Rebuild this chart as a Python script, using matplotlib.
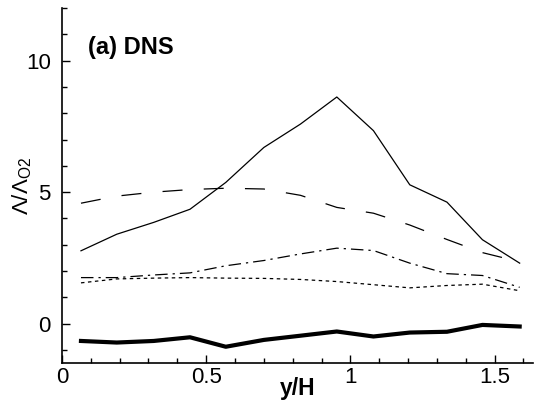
import numpy as np
import matplotlib
matplotlib.use("Agg")
import matplotlib.pyplot as plt

plt.rcParams["font.family"] = ["Liberation Sans", "DejaVu Sans"]
plt.rcParams["mathtext.fontset"] = "custom"
plt.rcParams["mathtext.rm"] = "Liberation Sans"

y_h = [0.066, 0.19, 0.318, 0.444, 0.568, 0.70, 0.827, 0.953, 1.08, 1.206, 1.335, 1.458, 1.587]
solid = [2.77, 3.40, 3.85, 4.35, 5.37, 6.70, 7.59, 8.62, 7.34, 5.28, 4.62, 3.19, 2.30]
dashed = [4.58, 4.85, 5.0, 5.1, 5.15, 5.12, 4.88, 4.42, 4.2, 3.75, 3.2, 2.7, 2.35]
dashdot = [1.75, 1.75, 1.85, 1.93, 2.2, 2.4, 2.65, 2.87, 2.78, 2.3, 1.9, 1.83, 1.38]
dotted = [1.55, 1.70, 1.73, 1.75, 1.73, 1.72, 1.68, 1.60, 1.48, 1.36, 1.45, 1.50, 1.25]
thick = [-0.66, -0.72, -0.66, -0.52, -0.88, -0.62, -0.46, -0.30, -0.49, -0.34, -0.31, -0.05, -0.11]

fig = plt.figure(figsize=(5.34, 4.07), dpi=100)
ax = fig.add_axes([0.116, 0.108, 0.882, 0.872])

ax.plot(y_h, solid, color="black", lw=0.9)
ax.plot(y_h, dashed, color="black", lw=0.9, dashes=(16, 17))
ax.plot(y_h, dashdot, color="black", lw=0.9, dashes=(10, 4, 1.8, 4))
ax.plot(y_h, dotted, color="black", lw=0.9, dashes=(2.8, 2.8))
ax.plot(y_h, thick, color="black", lw=3.0)

ax.set_xlim(0, 1.633)
ax.set_ylim(-1.5, 12)
ax.set_xticks([0, 0.5, 1, 1.5])
ax.set_xticklabels(["0", "0.5", "1", "1.5"])
ax.set_xticks(np.arange(0, 1.65, 0.1), minor=True)
ax.set_yticks([0, 5, 10])
ax.set_yticks(np.arange(-1, 12.5, 1), minor=True)

for s in ["top", "right"]:
    ax.spines[s].set_visible(False)
for s in ["left", "bottom"]:
    ax.spines[s].set_linewidth(1.2)

ax.tick_params(which="major", direction="in", length=6, width=1, labelsize=16)
ax.tick_params(which="minor", direction="in", length=3.5, width=1)
ax.tick_params(axis="x", which="major", pad=3)
ax.tick_params(axis="y", which="major", pad=8)

ax.set_xlabel("y/H", fontsize=16.5, fontweight="bold")
ax.xaxis.set_label_coords(0.5, -0.04)
ax.set_ylabel(r"$\Lambda/\Lambda_{\rm O2}$", fontsize=16)
ax.yaxis.set_label_coords(-0.06, 0.5)

ax.text(0.055, 0.87, "(a) DNS", transform=ax.transAxes, fontsize=17,
        fontweight="bold", ha="left", va="baseline")

fig.savefig("out.png", dpi=100)
